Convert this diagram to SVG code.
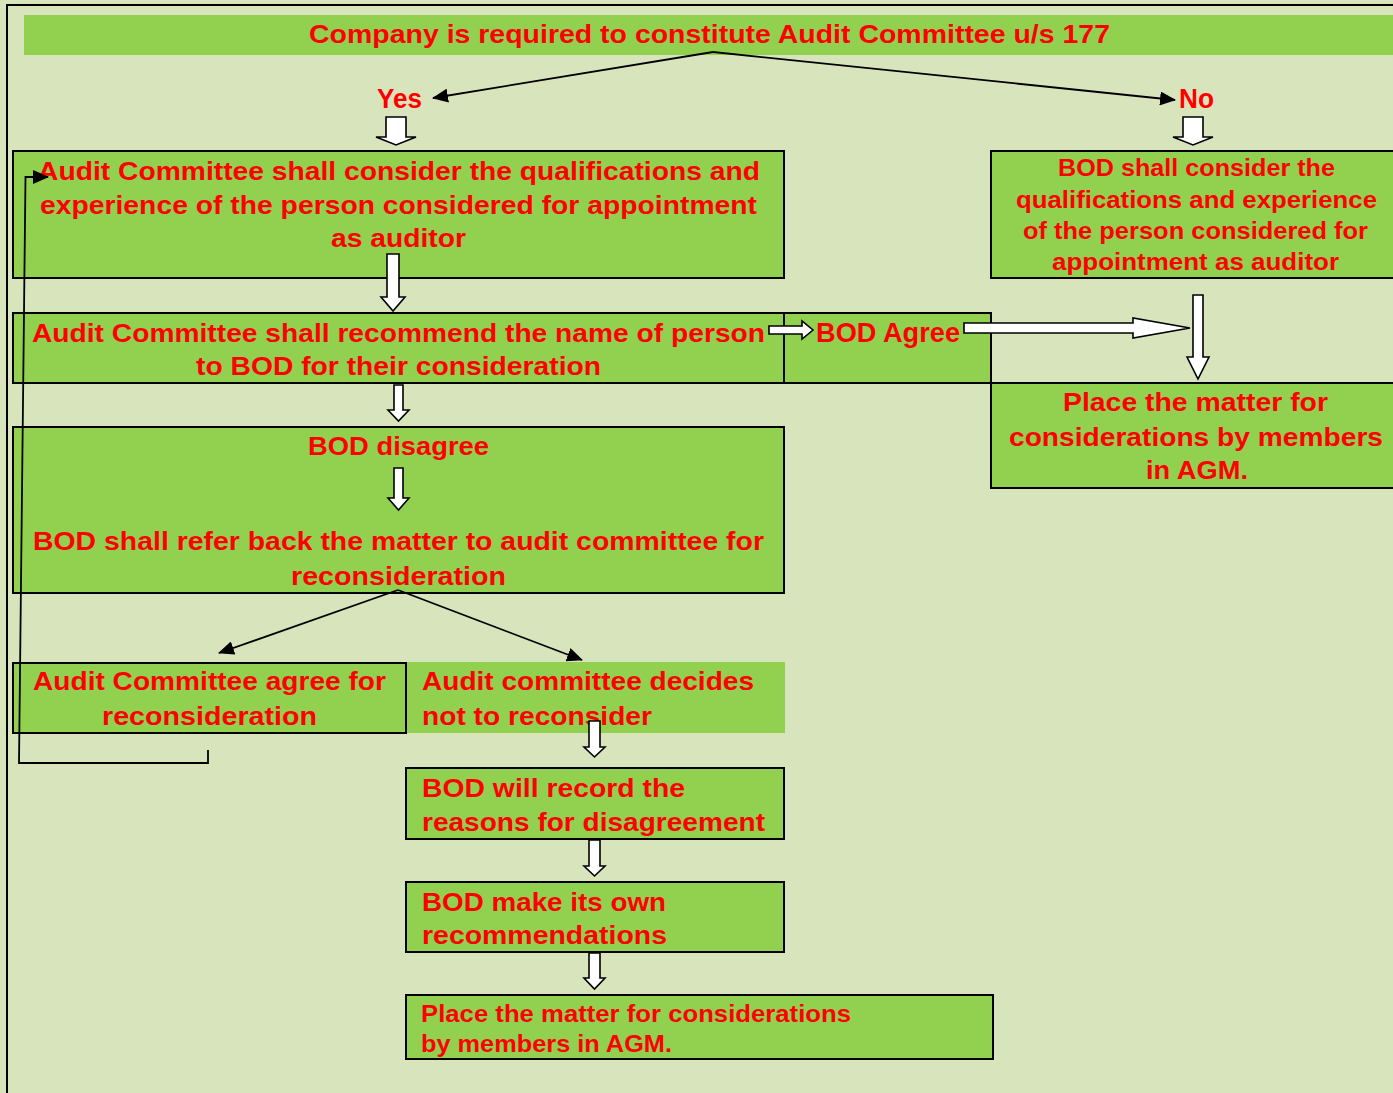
<svg xmlns="http://www.w3.org/2000/svg" width="1393" height="1093" viewBox="0 0 1393 1093">
<style>
.bg{fill:#d8e4bc}
.box{fill:#92d050;stroke:#000;stroke-width:2}
.fill{fill:#92d050}
.t{fill:#ff0000;font-family:"Liberation Sans",Arial,sans-serif;font-weight:bold;font-size:26px}
.s{font-size:24px}
.l{font-size:28px}
.blk{fill:#fff;stroke:#000;stroke-width:1.6;stroke-linejoin:miter}
.ln{fill:none;stroke:#000;stroke-width:1.8}
</style>
<defs>
<marker id="ah" markerUnits="userSpaceOnUse" markerWidth="16" markerHeight="14" refX="15" refY="7" orient="auto">
<path d="M0,0 L16,7 L0,14 Z" fill="#000"/>
</marker>
</defs>
<rect class="bg" x="0" y="0" width="1393" height="1093"/>
<path d="M7,1093 V5 H1393" fill="none" stroke="#000" stroke-width="2"/>

<g id="top">
<rect class="fill" x="24" y="15" width="1369" height="40"/>
<text class="t" x="309" y="43" textLength="801" lengthAdjust="spacingAndGlyphs">Company is required to constitute Audit Committee u/s 177</text>
</g>
<g id="yes"><text class="t l" x="377" y="108" textLength="45" lengthAdjust="spacingAndGlyphs">Yes</text></g>
<g id="no"><text class="t l" x="1179" y="108" textLength="35" lengthAdjust="spacingAndGlyphs">No</text></g>

<g id="ac-consider">
<rect class="box" x="13" y="151" width="771" height="127"/>
<text class="t" x="38" y="180" textLength="722" lengthAdjust="spacingAndGlyphs">Audit Committee shall consider the qualifications and</text>
<text class="t" x="40" y="214" textLength="717" lengthAdjust="spacingAndGlyphs">experience of the person considered for appointment</text>
<text class="t" x="331" y="247" textLength="135" lengthAdjust="spacingAndGlyphs">as auditor</text>
</g>

<g id="bod-consider">
<rect class="box" x="991" y="151" width="404" height="127"/>
<text class="t s" x="1058" y="176" textLength="277" lengthAdjust="spacingAndGlyphs">BOD shall consider the</text>
<text class="t s" x="1016" y="208" textLength="361" lengthAdjust="spacingAndGlyphs">qualifications and experience</text>
<text class="t s" x="1023" y="239" textLength="345" lengthAdjust="spacingAndGlyphs">of the person considered for</text>
<text class="t s" x="1052" y="270" textLength="287" lengthAdjust="spacingAndGlyphs">appointment as auditor</text>
</g>

<g id="ac-recommend">
<rect class="box" x="13" y="313" width="771" height="70"/>
<text class="t" x="32" y="342" textLength="733" lengthAdjust="spacingAndGlyphs">Audit Committee shall recommend the name of person</text>
<text class="t" x="196" y="375" textLength="405" lengthAdjust="spacingAndGlyphs">to BOD for their consideration</text>
</g>

<g id="bod-agree">
<rect class="box" x="784" y="313" width="207" height="70"/>
<text class="t l" x="816" y="342" textLength="144" lengthAdjust="spacingAndGlyphs">BOD Agree</text>
</g>

<g id="place-agm-1">
<rect class="box" x="991" y="383" width="404" height="105"/>
<text class="t" x="1063" y="411" textLength="265" lengthAdjust="spacingAndGlyphs">Place the matter for</text>
<text class="t" x="1009" y="446" textLength="374" lengthAdjust="spacingAndGlyphs">considerations by members</text>
<text class="t" x="1146" y="479" textLength="102" lengthAdjust="spacingAndGlyphs">in AGM.</text>
</g>

<g id="bod-disagree">
<rect class="box" x="13" y="427" width="771" height="166"/>
<text class="t" x="308" y="455" textLength="181" lengthAdjust="spacingAndGlyphs">BOD disagree</text>
<text class="t" x="33" y="550" textLength="731" lengthAdjust="spacingAndGlyphs">BOD shall refer back the matter to audit committee for</text>
<text class="t" x="291" y="585" textLength="215" lengthAdjust="spacingAndGlyphs">reconsideration</text>
</g>

<g id="ac-agree">
<rect class="box" x="13" y="663" width="393" height="70"/>
<text class="t" x="33" y="690" textLength="353" lengthAdjust="spacingAndGlyphs">Audit Committee agree for</text>
<text class="t" x="102" y="725" textLength="215" lengthAdjust="spacingAndGlyphs">reconsideration</text>
</g>

<g id="ac-not">
<rect class="fill" x="407" y="662" width="378" height="71"/>
<text class="t" x="422" y="690" textLength="332" lengthAdjust="spacingAndGlyphs">Audit committee decides</text>
<text class="t" x="422" y="725" textLength="230" lengthAdjust="spacingAndGlyphs">not to reconsider</text>
</g>

<g id="bod-record">
<rect class="box" x="406" y="768" width="378" height="71"/>
<text class="t" x="422" y="797" textLength="263" lengthAdjust="spacingAndGlyphs">BOD will record the</text>
<text class="t" x="422" y="831" textLength="343" lengthAdjust="spacingAndGlyphs">reasons for disagreement</text>
</g>

<g id="bod-own">
<rect class="box" x="406" y="882" width="378" height="70"/>
<text class="t" x="422" y="911" textLength="244" lengthAdjust="spacingAndGlyphs">BOD make its own</text>
<text class="t" x="422" y="944" textLength="245" lengthAdjust="spacingAndGlyphs">recommendations</text>
</g>

<g id="place-agm-2">
<rect class="box" x="406" y="995" width="587" height="64"/>
<text class="t s" x="421" y="1022" textLength="430" lengthAdjust="spacingAndGlyphs">Place the matter for considerations</text>
<text class="t s" x="421" y="1052" textLength="251" lengthAdjust="spacingAndGlyphs">by members in AGM.</text>
</g>

<g id="connectors">
<line class="ln" x1="713" y1="52" x2="433" y2="98" marker-end="url(#ah)"/>
<line class="ln" x1="713" y1="52" x2="1175" y2="100" marker-end="url(#ah)"/>
<line class="ln" x1="398" y1="590" x2="219" y2="653" marker-end="url(#ah)"/>
<line class="ln" x1="398" y1="590" x2="582" y2="660" marker-end="url(#ah)"/>
<path class="ln" d="M208,750 V763 H19 L25.5,177 H48" marker-end="url(#ah)"/>
<polygon class="blk" points="386,117 406,117 406,137 416,137 396,145 376,137 386,137"/>
<polygon class="blk" points="1183,117 1203,117 1203,137 1213,137 1193,145 1173,137 1183,137"/>
<polygon class="blk" points="387,254 399,254 399,297 405,297 393,311 381,297 387,297"/>
<polygon class="blk" points="394,385 403,385 403,410 409,410 398.5,421 388,410 394,410"/>
<polygon class="blk" points="394,468 403,468 403,498 409,498 398.5,510 388,498 394,498"/>
<polygon class="blk" points="589,721 600,721 600,747 605,747 594.5,757 584,747 589,747"/>
<polygon class="blk" points="589,840 600,840 600,866 605,866 594.5,876 584,866 589,866"/>
<polygon class="blk" points="589,953 600,953 600,978 605,978 594.5,989 584,978 589,978"/>
<polygon class="blk" points="769,326 802,326 802,321 813,330 802,339 802,334 769,334"/>
<polygon class="blk" points="964,323 1133,323 1133,318 1190,328 1133,338 1133,333 964,333"/>
<polygon class="blk" points="1193,295 1203,295 1203,357 1209,357 1198,379 1187,357 1193,357"/>
</g>
</svg>
